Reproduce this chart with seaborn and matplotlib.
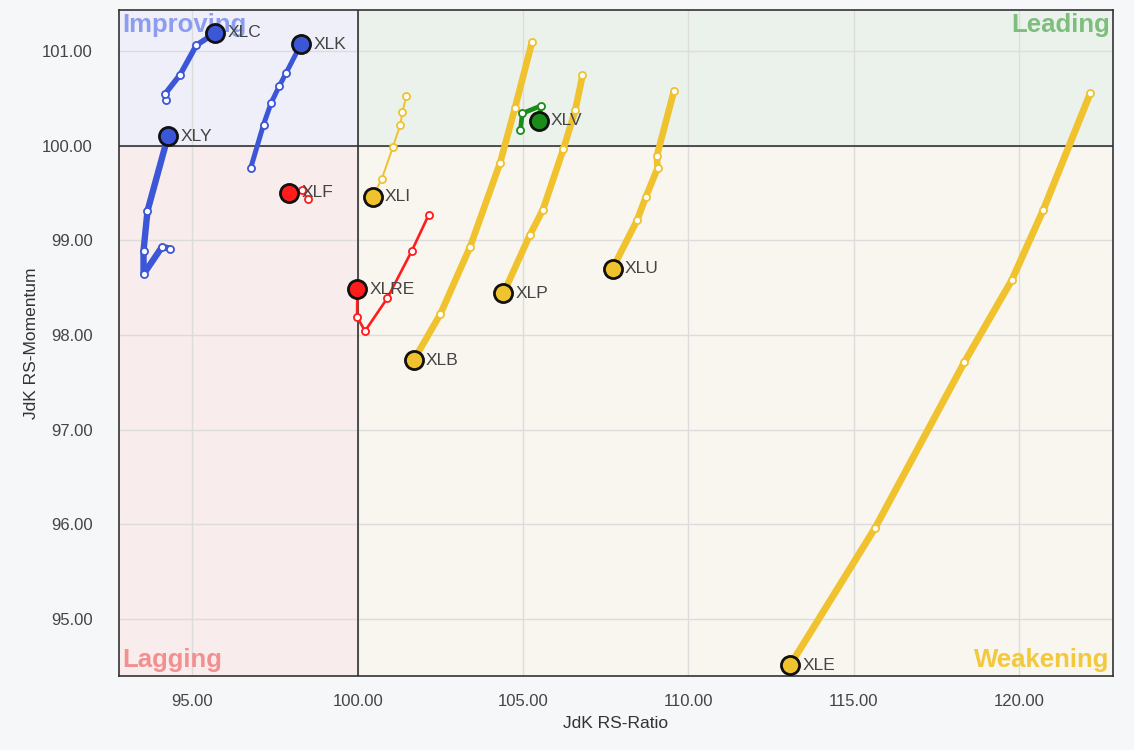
#Importing the necessary libraries
import numpy as np
import pandas as pd
import matplotlib
matplotlib.use('Agg')
import matplotlib.pyplot as plt
from matplotlib.patches import Rectangle
import seaborn as sns

#Data: trail points, oldest first, last value is the current position
tickers = ['XLC', 'XLK', 'XLY', 'XLF', 'XLI', 'XLRE', 'XLB', 'XLP', 'XLU', 'XLV', 'XLE']

xlc_ratio = [94.21, 94.16, 94.63, 95.12, 95.69]
xlc_mom = [100.48, 100.54, 100.75, 101.06, 101.19]

xlk_ratio = [96.76, 97.15, 97.38, 97.63, 97.84, 98.28]
xlk_mom = [99.76, 100.22, 100.45, 100.63, 100.77, 101.07]

xly_ratio = [94.33, 94.08, 93.52, 93.52, 93.64, 94.26]
xly_mom = [98.91, 98.93, 98.64, 98.89, 99.31, 100.10]

xlf_ratio = [98.51, 98.31, 97.91]
xlf_mom = [99.43, 99.53, 99.50]

xli_ratio = [101.47, 101.35, 101.29, 101.06, 100.73, 100.45]
xli_mom = [100.52, 100.35, 100.22, 99.98, 99.65, 99.46]

xlre_ratio = [102.15, 101.64, 100.90, 100.22, 99.98, 99.99]
xlre_mom = [99.27, 98.89, 98.39, 98.04, 98.19, 98.48]

xlb_ratio = [105.27, 104.76, 104.31, 103.40, 102.50, 101.69]
xlb_mom = [101.09, 100.40, 99.82, 98.93, 98.22, 97.73]

xlp_ratio = [106.80, 106.58, 106.22, 105.60, 105.20, 104.41]
xlp_mom = [100.74, 100.37, 99.96, 99.32, 99.05, 98.44]

xlu_ratio = [109.57, 109.05, 109.07, 108.72, 108.45, 107.71]
xlu_mom = [100.58, 99.89, 99.76, 99.46, 99.21, 98.70]

xlv_ratio = [104.92, 104.98, 105.55, 105.47]
xlv_mom = [100.16, 100.34, 100.42, 100.26]

xle_ratio = [122.16, 120.74, 119.79, 118.35, 115.65, 113.08]
xle_mom = [100.55, 99.32, 98.58, 97.71, 95.96, 94.51]

ratios = [xlc_ratio, xlk_ratio, xly_ratio, xlf_ratio, xli_ratio, xlre_ratio,
          xlb_ratio, xlp_ratio, xlu_ratio, xlv_ratio, xle_ratio]
moms = [xlc_mom, xlk_mom, xly_mom, xlf_mom, xli_mom, xlre_mom,
        xlb_mom, xlp_mom, xlu_mom, xlv_mom, xle_mom]

x_ticks = [95, 100, 105, 110, 115, 120]
y_ticks = [95, 96, 97, 98, 99, 100, 101]

#Styles
blue = '#3b57d8'
red = '#ff1c1c'
gold = '#f0c22e'
green = '#1a8c1a'
colors = {'XLC': blue, 'XLK': blue, 'XLY': blue, 'XLF': red, 'XLI': gold,
          'XLRE': red, 'XLB': gold, 'XLP': gold, 'XLU': gold, 'XLV': green, 'XLE': gold}
widths = {'XLC': 4.0, 'XLK': 3.6, 'XLY': 4.6, 'XLF': 1.2, 'XLI': 1.4,
          'XLRE': 1.9, 'XLB': 4.8, 'XLP': 4.8, 'XLU': 4.8, 'XLV': 3.4, 'XLE': 5.0}

#Build one long table
rows = []
for t, rx, my in zip(tickers, ratios, moms):
    for i, (a, b) in enumerate(zip(rx, my)):
        rows.append({'ticker': t, 'step': i, 'ratio': a, 'mom': b, 'head': i == len(rx) - 1})
df = pd.DataFrame(rows)

sns.set_style('white')
plt.rcParams['font.family'] = ['Liberation Sans', 'DejaVu Sans']

fig = plt.figure(figsize=(11.34, 7.5), dpi=100, facecolor='#f6f7f9')
ax = fig.add_axes([0.105, 0.099, 0.8765, 0.8875])

xmin, xmax = 92.78, 122.85
ymin, ymax = 94.40, 101.43
ax.set_xlim(xmin, xmax)
ax.set_ylim(ymin, ymax)

#Quadrant backgrounds
ax.add_patch(Rectangle((xmin, 100), 100 - xmin, ymax - 100, color='#eeeff9', zorder=0))
ax.add_patch(Rectangle((100, 100), xmax - 100, ymax - 100, color='#ebf2ec', zorder=0))
ax.add_patch(Rectangle((xmin, ymin), 100 - xmin, 100 - ymin, color='#f9ecec', zorder=0))
ax.add_patch(Rectangle((100, ymin), xmax - 100, 100 - ymin, color='#f8f6ef', zorder=0))

ax.set_xticks(x_ticks)
ax.set_yticks(y_ticks)
ax.set_xticklabels([f'{v:.2f}' for v in x_ticks])
ax.set_yticklabels([f'{v:.2f}' for v in y_ticks])
ax.grid(True, color='#dcdcdc', lw=1, zorder=1)
ax.set_axisbelow(True)
ax.axvline(100, color='#333333', lw=1.2, zorder=2)
ax.axhline(100, color='#333333', lw=1.2, zorder=2)
ax.tick_params(length=0, labelsize=12, colors='#444444')
ax.tick_params(axis='y', pad=19)
ax.tick_params(axis='x', pad=13)
for s in ax.spines.values():
    s.set_color('#333333')
    s.set_linewidth(1.2)

#Quadrant names
qfont = dict(fontsize=18.5, fontweight='bold', zorder=2)
ax.text(xmin + 0.1, ymax - 0.03, 'Improving', color='#8c9cef', ha='left', va='top', **qfont)
ax.text(xmax - 0.1, ymax - 0.03, 'Leading', color='#7dbd7d', ha='right', va='top', **qfont)
ax.text(xmin + 0.1, ymin + 0.04, 'Lagging', color='#f29090', ha='left', va='bottom', **qfont)
ax.text(xmax - 0.1, ymin + 0.04, 'Weakening', color='#f2c83c', ha='right', va='bottom', **qfont)

#Trails
for t in tickers:
    d = df[df['ticker'] == t]
    c = colors[t]
    sns.lineplot(data=d, x='ratio', y='mom', sort=False, estimator=None, color=c,
                 lw=widths[t], ax=ax, zorder=3, solid_capstyle='round',
                 solid_joinstyle='round')
    tail = d[~d['head']]
    sns.scatterplot(data=tail, x='ratio', y='mom', color='white', edgecolor=c,
                    linewidth=1.3, s=26, ax=ax, zorder=4)
    head = d[d['head']]
    sns.scatterplot(data=head, x='ratio', y='mom', color=c, edgecolor='#111111',
                    linewidth=2, s=170, ax=ax, zorder=5)
    ax.annotate(t, (head['ratio'].iloc[0], head['mom'].iloc[0]), xytext=(9, 0),
                textcoords='offset points', ha='left', va='center', fontsize=12.5,
                color='#444444', zorder=6)

ax.set_xlabel('JdK RS-Ratio', fontsize=12.5, color='#333333', labelpad=5)
ax.set_ylabel('JdK RS-Momentum', fontsize=12.5, color='#333333', labelpad=2)

fig.savefig('out.png', dpi=100, facecolor=fig.get_facecolor())
